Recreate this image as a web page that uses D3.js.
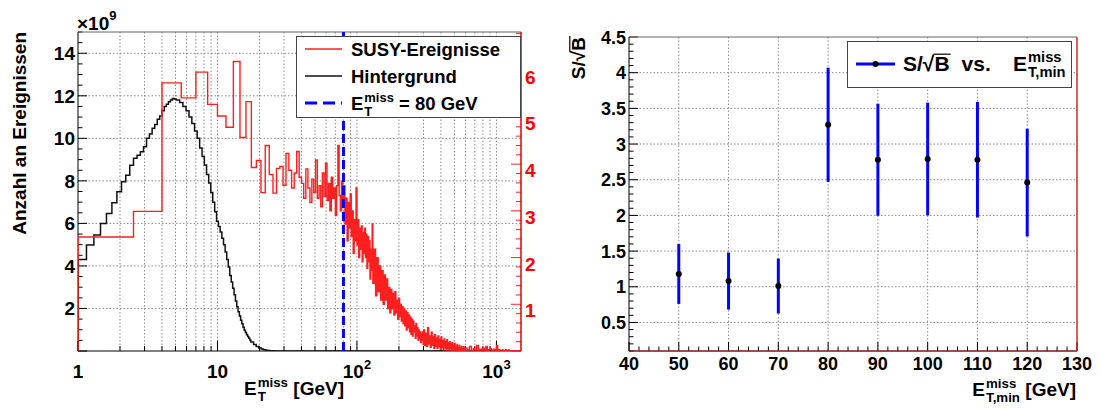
<!DOCTYPE html>
<html>
<head>
<meta charset="utf-8">
<script src="https://cdn.jsdelivr.net/npm/d3@7/dist/d3.min.js"></script>
<style>
  html, body { margin: 0; padding: 0; background: #fff; }
  svg text { font-family: "Liberation Sans", Arial, Helvetica, sans-serif; font-weight: bold; fill: #000; }
</style>
</head>
<body>
<svg id="chart" width="1102" height="408"></svg>
<script>
// ---------------- data: missing-ET spectra ----------------
// Background (Hintergrund), events in units of 1e9, variable bin widths
const bkgFineStart = 1, bkgFineWidth = 0.15;
const bkgFine = [4.30, 4.98, 5.45, 6.00, 6.47, 6.97, 7.49, 7.96, 8.27, 8.74, 9.06, 9.20, 9.37, 9.60,
  10.0, 10.2, 10.47, 10.65, 10.9, 11.05, 11.3, 11.5, 11.6, 11.72, 11.8, 11.87, 11.85];
const bkgMidStart = 5.05, bkgMidWidth = 0.3;
const bkgMid = [11.8, 11.68, 11.5, 11.3, 11.0, 10.7, 10.35, 10.0, 9.55, 9.15, 8.75, 8.3, 7.9, 7.45,
  7.0, 6.55, 6.1, 5.85, 5.6, 5.3, 5.0, 4.65, 4.3, 3.95, 3.55, 3.25, 2.95, 2.65, 2.35, 2.08, 1.85,
  1.65, 1.45, 1.28, 1.12, 0.98, 0.87, 0.77, 0.68, 0.6, 0.52];
const bkgTailStart = 17.35, bkgTailWidth = 0.8;
const bkgTail = [0.42, 0.3, 0.21, 0.14, 0.09, 0.06, 0.04, 0.025, 0.015, 0.01, 0.005, 0.003, 0.002, 0.001, 0, 0];

// SUSY events (SUSY-Ereignisse), in units of the right-hand axis
const susyFineStart = 1, susyFineWidth = 1.5;
const susyFine = [2.44, 2.99, 5.74, 5.42, 5.97, 5.28, 5.03, 4.79, 6.20, 4.57, 5.34, 3.93, 4.08, 3.39,
  4.40, 3.78, 3.38, 3.91, 3.95, 3.55, 4.23, 3.87, 3.49, 3.81, 4.27, 3.72, 3.59, 3.27, 3.90, 3.49, 3.18,
  3.68, 3.40, 4.09, 3.27, 3.54, 3.09, 3.81, 3.31, 4.02, 3.22, 3.59, 3.00, 3.72, 3.27, 3.49, 2.90, 3.54,
  4.40, 3.33, 3.00, 3.63, 3.18, 3.54, 2.72, 3.27, 2.36, 3.18, 2.63, 3.36, 2.45, 3.00, 2.09, 2.81, 2.36,
  3.49, 2.27, 2.81, 2.00, 2.63, 2.18, 2.68, 1.91, 2.54, 2.09, 2.63, 2.00, 2.50, 1.77, 2.45, 1.91, 2.36,
  1.54, 2.18, 1.72, 2.72];
const susyMidStart = 130, susyMidWidth = 3;
const susyMid = [1.45, 2.18, 1.18, 2.00, 1.27, 1.82, 1.09, 1.72, 1.00, 1.63, 1.09, 1.54, 0.91, 1.36,
  0.82, 1.32, 0.91, 1.23, 0.77, 1.27, 0.82, 1.09, 0.68, 1.13, 0.73, 1.00, 0.64, 0.95, 0.59, 0.91, 0.54,
  0.86, 0.45, 0.82, 0.50, 0.77, 0.41, 0.73, 0.36, 0.68, 0.32, 0.64, 0.41, 0.54, 0.27, 0.59, 0.32, 0.50,
  0.23, 0.45, 0.27, 0.41, 0.18, 0.36, 0.23, 0.41, 0.14];
const susyTailStart = 301, susyTailWidth = 5;
const susyTail = [0.45, 0.12, 0.38, 0.10, 0.50, 0.15, 0.32, 0.08, 0.40, 0.12, 0.30, 0.05, 0.35, 0.10,
  0.28, 0.06, 0.32, 0.10, 0.25, 0.04, 0.30, 0.08, 0.22, 0.03, 0.26, 0.07, 0.20, 0.02, 0.24, 0.06, 0.18,
  0.02, 0.20, 0.05, 0.15, 0.0, 0.18, 0.04, 0.12, 0.0, 0.16, 0.03, 0.10, 0.0, 0.14, 0.02, 0.08, 0.0,
  0.12, 0.02, 0.06, 0.0, 0.10, 0.0, 0.05, 0.02, 0.09, 0.0, 0.04, 0.0];
const susyFarStart = 601, susyFarWidth = 20;
const susyFar = [0.06, 0.02, 0.10, 0.0, 0.05, 0.02, 0.12, 0.0, 0.04, 0.02, 0.06, 0.0, 0.10, 0.0, 0.03,
  0.05, 0, 0.02, 0.04, 0, 0.12, 0, 0.03, 0, 0, 0.02, 0, 0, 0.03, 0, 0, 0.02, 0, 0, 0, 0, 0, 0, 0, 0,
  0, 0, 0, 0, 0];

const metCut = 80;                       // GeV, dashed line
const bkgTicks = [2, 4, 6, 8, 10, 12, 14];
const susyTicks = [1, 2, 3, 4, 5, 6];
const susyAxisMax = 6.83;                // 1.1 x highest SUSY bin

// ---------------- data: significance scan ----------------
const cutValues = [50, 60, 70, 80, 90, 100, 110, 120];
const significance = [1.18, 1.08, 1.01, 3.27, 2.78, 2.79, 2.78, 2.46];
const significanceErr = [0.42, 0.40, 0.385, 0.80, 0.785, 0.79, 0.81, 0.755];
const sigTicks = [0.5, 1, 1.5, 2, 2.5, 3, 3.5, 4, 4.5];
const cutTicks = [40, 50, 60, 70, 80, 90, 100, 110, 120, 130];

// ---------------- helpers ----------------
const svg = d3.select("#chart");

function binsFrom(start, width, values) {
  return values.map((v, i) => ({x0: start + i * width, x1: start + (i + 1) * width, v}));
}
function histPoints(bins, xEnd) {
  const pts = [[bins[0].x0, 0]];
  bins.forEach(b => { pts.push([b.x0, b.v], [b.x1, b.v]); });
  const last = bins[bins.length - 1];
  pts.push([last.x1, 0]);
  if (xEnd > last.x1) pts.push([xEnd, 0]);
  return pts;
}
// "E" with stacked superscript / subscript, followed by optional text
function stackedLabel(g, x, y, size, sup, sub, rest, anchor, color) {
  const grp = g.append("g");
  const fill = color || "#000";
  const e = grp.append("text").attr("x", 0).attr("y", 0).style("font-size", size + "px").attr("fill", fill).text("E");
  const w1 = e.node().getComputedTextLength();
  const ss = size * 0.7;
  const tSup = grp.append("text").attr("x", w1 + 1).attr("y", -size * 0.42).style("font-size", ss + "px").attr("fill", fill).text(sup);
  const tSub = grp.append("text").attr("x", w1 + 1).attr("y", size * 0.3).style("font-size", ss + "px").attr("fill", fill).text(sub);
  let total = w1 + 1 + Math.max(tSup.node().getComputedTextLength(), tSub.node().getComputedTextLength());
  if (rest) {
    const gap = size * 0.28;
    const t = grp.append("text").attr("x", total + gap).attr("y", 0).style("font-size", size + "px").attr("fill", fill).text(rest);
    total += gap + t.node().getComputedTextLength();
  }
  const shift = anchor === "end" ? -total : anchor === "middle" ? -total / 2 : 0;
  grp.attr("transform", `translate(${x + shift},${y})`);
  return grp;
}
const dotted = sel => sel.attr("stroke", "#8a8a8a").attr("stroke-width", 1).attr("stroke-dasharray", "1.5,2");

// ================= left panel =================
const L = {x0: 78, x1: 521, y0: 32, y1: 351};
const xMet = d3.scaleLog().domain([1, 1500]).range([L.x0, L.x1]);
const yBkg = d3.scaleLinear().domain([0, 15]).range([L.y1, L.y0]);
const ySusy = d3.scaleLinear().domain([0, susyAxisMax]).range([L.y1, L.y0]);

const left = svg.append("g");
left.append("clipPath").attr("id", "clipL").append("rect")
  .attr("x", L.x0).attr("y", L.y0).attr("width", L.x1 - L.x0).attr("height", L.y1 - L.y0);

// grid
const logTicks = xMet.ticks().filter(v => v > 1 && v < 1500);
left.selectAll(".vg").data(logTicks).join("line")
  .attr("x1", d => xMet(d)).attr("x2", d => xMet(d)).attr("y1", L.y0).attr("y2", L.y1).call(dotted);
left.selectAll(".hg").data(bkgTicks).join("line")
  .attr("x1", L.x0).attr("x2", L.x1).attr("y1", d => yBkg(d)).attr("y2", d => yBkg(d)).call(dotted);

// ticks on the left axis
const bkgMinor = d3.range(0, 15.001, 0.5);
left.selectAll(".yt").data(bkgMinor).join("line")
  .attr("x1", L.x0).attr("x2", d => L.x0 + (d % 2 === 0 ? 9 : 4.5))
  .attr("y1", d => yBkg(d)).attr("y2", d => yBkg(d)).attr("stroke", "#000").attr("stroke-width", 1);
// ticks on the log x axis
const xTickAll = xMet.ticks();
left.selectAll(".xt").data(xTickAll).join("line")
  .attr("x1", d => xMet(d)).attr("x2", d => xMet(d))
  .attr("y1", L.y1).attr("y2", d => L.y1 - ([1, 10, 100, 1000].includes(d) ? 10 : 5))
  .attr("stroke", "#000").attr("stroke-width", 1);

// frame
left.append("line").attr("x1", L.x0).attr("x2", L.x1).attr("y1", L.y0).attr("y2", L.y0).attr("stroke", "#666");
left.append("line").attr("x1", L.x0).attr("x2", L.x0).attr("y1", L.y0).attr("y2", L.y1).attr("stroke", "#000");
left.append("line").attr("x1", L.x0).attr("x2", L.x1).attr("y1", L.y1).attr("y2", L.y1).attr("stroke", "#000");

// histograms
const bkgBins = binsFrom(bkgFineStart, bkgFineWidth, bkgFine)
  .concat(binsFrom(bkgMidStart, bkgMidWidth, bkgMid))
  .concat(binsFrom(bkgTailStart, bkgTailWidth, bkgTail));
const susyBins = binsFrom(susyFineStart, susyFineWidth, susyFine)
  .concat(binsFrom(susyMidStart, susyMidWidth, susyMid))
  .concat(binsFrom(susyTailStart, susyTailWidth, susyTail))
  .concat(binsFrom(susyFarStart, susyFarWidth, susyFar));

const hists = left.append("g").attr("clip-path", "url(#clipL)");
hists.append("path")
  .attr("d", d3.line().x(p => xMet(p[0])).y(p => yBkg(p[1]))(histPoints(bkgBins, 1500)))
  .attr("fill", "none").attr("stroke", "#111").attr("stroke-width", 1.5);
hists.append("path")
  .attr("d", d3.line().x(p => xMet(Math.min(p[0], 1500))).y(p => ySusy(p[1]))(histPoints(susyBins, 1500)))
  .attr("fill", "none").attr("stroke", "#ff1f1f").attr("stroke-width", 1.4);

// cut line
left.append("line").attr("x1", xMet(metCut)).attr("x2", xMet(metCut)).attr("y1", L.y1).attr("y2", L.y0)
  .attr("stroke", "#0000ff").attr("stroke-width", 3).attr("stroke-dasharray", "9,4");

// right-hand (SUSY) axis
const susyMinor = d3.range(0, susyAxisMax, 0.2);
left.selectAll(".rt").data(susyMinor).join("line")
  .attr("x1", L.x1).attr("x2", d => L.x1 - (Math.abs(d - Math.round(d)) < 1e-6 ? 10 : 5))
  .attr("y1", d => ySusy(d)).attr("y2", d => ySusy(d)).attr("stroke", "#ff2020").attr("stroke-width", 1);
left.append("line").attr("x1", L.x1).attr("x2", L.x1).attr("y1", L.y0).attr("y2", L.y1)
  .attr("stroke", "#e00000").attr("stroke-width", 1.5);
left.selectAll(".rl").data(susyTicks).join("text")
  .attr("x", L.x1 + 4).attr("y", d => ySusy(d) + 13).style("font-size", "19px")
  .style("fill", "#ff0000").text(d => d);

// left axis labels
left.selectAll(".yl").data(bkgTicks).join("text")
  .attr("x", L.x0 - 3).attr("y", d => yBkg(d) + 7).attr("text-anchor", "end").style("font-size", "19px").text(d => d);
const exp10 = {1: ["1", ""], 10: ["10", ""], 100: ["10", "2"], 1000: ["10", "3"]};
[1, 10, 100, 1000].forEach(v => {
  const t = left.append("text").attr("x", xMet(v)).attr("y", 378).attr("text-anchor", "middle").style("font-size", "19px");
  t.append("tspan").text(exp10[v][0]);
  if (exp10[v][1]) t.append("tspan").attr("dy", -9).style("font-size", "13px").text(exp10[v][1]);
});
// multiplier
const mult = left.append("text").attr("x", L.x0 - 1).attr("y", 30).style("font-size", "19px");
mult.append("tspan").text("\u00d710");
mult.append("tspan").attr("dy", -10).style("font-size", "13px").text("9");

// axis titles
left.append("text").attr("transform", `translate(26,${L.y0}) rotate(-90)`).attr("text-anchor", "end")
  .style("font-size", "19px").text("Anzahl an Ereignissen");
stackedLabel(left, 294, 395, 19, "miss", "T", "[GeV]", "middle");

// legend
const lg = left.append("g");
lg.append("rect").attr("x", 296.5).attr("y", 36.5).attr("width", 224).attr("height", 81)
  .attr("fill", "#fff").attr("stroke", "#444").attr("stroke-width", 1);
lg.append("line").attr("x1", 305).attr("x2", 342).attr("y1", 49).attr("y2", 49).attr("stroke", "#ff1f1f").attr("stroke-width", 1.4);
lg.append("line").attr("x1", 305).attr("x2", 342).attr("y1", 76).attr("y2", 76).attr("stroke", "#111").attr("stroke-width", 1.4);
lg.append("line").attr("x1", 305).attr("x2", 342).attr("y1", 103).attr("y2", 103).attr("stroke", "#0000ff")
  .attr("stroke-width", 3).attr("stroke-dasharray", "12,6");
lg.append("text").attr("x", 351).attr("y", 56).style("font-size", "18.5px").text("SUSY-Ereignisse");
lg.append("text").attr("x", 351).attr("y", 83).style("font-size", "18.5px").text("Hintergrund");
stackedLabel(lg, 351, 110, 18.5, "miss", "T", "= 80 GeV", "start");

// ================= right panel =================
const R = {x0: 629, x1: 1077, y0: 37, y1: 351};
const xCut = d3.scaleLinear().domain([40, 130]).range([R.x0, R.x1]);
const ySig = d3.scaleLinear().domain([0.1, 4.5]).range([R.y1, R.y0]);
const right = svg.append("g");

right.selectAll(".vg").data(cutTicks.filter(v => v > 40 && v < 130)).join("line")
  .attr("x1", d => xCut(d)).attr("x2", d => xCut(d)).attr("y1", R.y0).attr("y2", R.y1).call(dotted);
right.selectAll(".hg").data(sigTicks.filter(v => v < 4.5)).join("line")
  .attr("x1", R.x0).attr("x2", R.x1).attr("y1", d => ySig(d)).attr("y2", d => ySig(d)).call(dotted);

const cutMinor = d3.range(40, 130.001, 2);
right.selectAll(".xt").data(cutMinor).join("line")
  .attr("x1", d => xCut(d)).attr("x2", d => xCut(d)).attr("y1", R.y1)
  .attr("y2", d => R.y1 - (d % 10 === 0 ? 9 : 4.5)).attr("stroke", "#000").attr("stroke-width", 1);
const sigMinor = d3.range(1, 45.001, 1).map(i => i / 10);
right.selectAll(".yt").data(sigMinor).join("line")
  .attr("x1", R.x0).attr("x2", d => R.x0 + (Math.abs(d * 2 - Math.round(d * 2)) < 1e-6 ? 9 : 4.5))
  .attr("y1", d => ySig(d)).attr("y2", d => ySig(d)).attr("stroke", "#000").attr("stroke-width", 1);

right.append("line").attr("x1", R.x0).attr("x2", R.x1).attr("y1", R.y0).attr("y2", R.y0).attr("stroke", "#666");
right.append("line").attr("x1", R.x0).attr("x2", R.x0).attr("y1", R.y0).attr("y2", R.y1).attr("stroke", "#000");
right.append("line").attr("x1", R.x0).attr("x2", R.x1).attr("y1", R.y1).attr("y2", R.y1).attr("stroke", "#7a1515").attr("stroke-width", 1.3);
right.append("line").attr("x1", R.x1).attr("x2", R.x1).attr("y1", R.y0).attr("y2", R.y1).attr("stroke", "#d00000").attr("stroke-width", 1.3);

right.selectAll(".yl").data(sigTicks).join("text")
  .attr("x", 626).attr("y", d => ySig(d) + 6.5).attr("text-anchor", "end").style("font-size", "18px")
  .text(d => Number.isInteger(d) ? d : d.toFixed(1));
right.selectAll(".xl").data(cutTicks).join("text")
  .attr("x", d => xCut(d)).attr("y", 370).attr("text-anchor", "middle").style("font-size", "18px").text(d => d);

// error bars and points
const pts = cutValues.map((c, i) => ({c, v: significance[i], e: significanceErr[i]}));
right.selectAll(".eb").data(pts).join("line")
  .attr("x1", d => xCut(d.c)).attr("x2", d => xCut(d.c))
  .attr("y1", d => ySig(d.v - d.e)).attr("y2", d => ySig(d.v + d.e))
  .attr("stroke", "#0000ff").attr("stroke-width", 3);
right.selectAll(".pt").data(pts).join("circle")
  .attr("cx", d => xCut(d.c)).attr("cy", d => ySig(d.v)).attr("r", 3).attr("fill", "#000");

// y title  S/sqrt(B)
function sqrtLabel(g, size) {
  const t = g.append("text").attr("x", 0).attr("y", 0).style("font-size", size + "px");
  t.append("tspan").text("S/\u221a");
  const b = t.append("tspan").text("B");
  const total = t.node().getComputedTextLength();
  const wB = b.node().getComputedTextLength();
  g.append("line").attr("x1", total - wB - 1).attr("x2", total + 1)
    .attr("y1", -size * 0.8).attr("y2", -size * 0.8).attr("stroke", "#000").attr("stroke-width", 1.2);
  return total;
}
const yTitle = right.append("g");
const yTitleLen = sqrtLabel(yTitle, 19);
yTitle.attr("transform", `translate(585,${R.y0}) rotate(-90) translate(${-yTitleLen},0)`);

stackedLabel(right, 1076, 396, 19, "miss", "T,min", "[GeV]", "end");

// legend
const rg = right.append("g");
rg.append("rect").attr("x", 847.5).attr("y", 41.5).attr("width", 224).attr("height", 46)
  .attr("fill", "#fff").attr("stroke", "#444").attr("stroke-width", 1);
rg.append("line").attr("x1", 856).attr("x2", 895).attr("y1", 64).attr("y2", 64).attr("stroke", "#0000ff").attr("stroke-width", 3);
rg.append("circle").attr("cx", 875.5).attr("cy", 64).attr("r", 3).attr("fill", "#000");
const lt = rg.append("g").attr("transform", "translate(903,71)");
const sl = sqrtLabel(lt, 21);
rg.append("text").attr("x", 903 + sl + 12).attr("y", 71).style("font-size", "21px").text("vs.");
stackedLabel(rg, 1013, 71, 21, "miss", "T,min", null, "start");
</script>
</body>
</html>
